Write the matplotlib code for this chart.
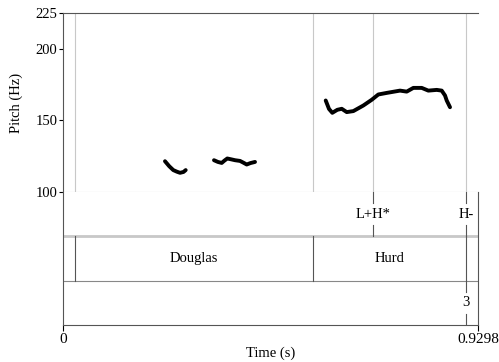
import matplotlib

matplotlib.use("Agg")
import matplotlib.pyplot as plt

plt.rcParams["font.family"] = ["Liberation Serif", "DejaVu Serif"]

# pitch contour (s, Hz), three voiced stretches
seg1_t = [0.2285, 0.2380, 0.2471, 0.2550, 0.2622, 0.2700, 0.2749]
seg1_f = [121.5, 118.0, 115.3, 114.2, 113.4, 114.0, 115.3]
seg2_t = [0.3383, 0.3470, 0.3556, 0.3620, 0.3681, 0.3770, 0.3854, 0.3966, 0.4040, 0.4116, 0.4200, 0.4302]
seg2_f = [122.2, 121.0, 120.3, 122.0, 123.4, 122.8, 122.2, 121.7, 120.5, 119.2, 120.2, 121.0]
seg3_t = [0.5886, 0.5960, 0.6034, 0.6146, 0.6245, 0.6357, 0.6505, 0.6620, 0.6729, 0.6917,
          0.7065, 0.7253, 0.7551, 0.7701, 0.7849, 0.8037, 0.8185, 0.8373, 0.8485, 0.8559,
          0.8597, 0.8671]
seg3_f = [163.9, 158.0, 155.3, 157.4, 158.1, 155.8, 156.5, 158.5, 160.4, 164.4,
          168.1, 169.2, 170.8, 170.1, 172.7, 172.7, 170.8, 171.3, 170.8, 167.4,
          163.9, 159.2]

t_end = 0.9298
y_ticks = [100, 150, 200, 225]

# tiers
tone_times = [0.6946, 0.9030]
tone_labels = ["L+H*", "H-"]
word_bounds = [0.0269, 0.5600, 0.9030]
word_labels = ["Douglas", "Hurd"]
break_times = [0.9030]
break_labels = ["3"]

W, H = 499, 362
fig = plt.figure(figsize=(W / 100, H / 100), dpi=100)
x0, x1 = 63 / W, 478 / W
ax = fig.add_axes([x0, 1 - 192 / H, x1 - x0, (192 - 13) / H])
tx = fig.add_axes([x0, 1 - 325 / H, x1 - x0, (325 - 192) / H])

# pitch panel
for t in [word_bounds[0], word_bounds[1], tone_times[0], tone_times[1]]:
    ax.axvline(t, color="#c8c8c8", lw=0.8, zorder=1)
for tt, ff in [(seg1_t, seg1_f), (seg2_t, seg2_f), (seg3_t, seg3_f)]:
    ax.plot(tt, ff, color="black", lw=2.8, solid_capstyle="round", zorder=3)
ax.set_xlim(0, t_end)
ax.set_ylim(100, 225)
ax.set_yticks(y_ticks)
ax.set_xticks([])
ax.tick_params(axis="y", direction="out", length=3, width=0.8, labelsize=10.5, pad=1)
ax.spines["bottom"].set_color("#c8c8c8")
ax.spines["right"].set_visible(False)
ax.spines["top"].set_color("#555555")
ax.spines["left"].set_color("#555555")
ax.set_ylabel("Pitch (Hz)", fontsize=10.5, labelpad=9)

# tier panel
tx.set_xlim(0, t_end)
tx.set_ylim(0, 3)
tx.set_yticks([])
tx.set_xticks([0, t_end])
tx.set_xticklabels(["0", "0.9298"])
tx.tick_params(axis="x", direction="out", length=4, width=0.8, labelsize=11, pad=2)
tx.spines["top"].set_visible(False)
for s in ["left", "right", "bottom"]:
    tx.spines[s].set_color("#555555")
tx.axhline(2, color="#c8c8c8", lw=2.0)
tx.axhline(1, color="#888888", lw=0.8)

tick_len = 0.25
for t, lab in zip(tone_times, tone_labels):
    tx.plot([t, t], [3, 3 - tick_len], color="#555555", lw=0.8)
    tx.plot([t, t], [2, 2 + tick_len], color="#555555", lw=0.8)
    tx.text(t, 2.5, lab, ha="center", va="center", fontsize=10.5)
for t in word_bounds:
    tx.plot([t, t], [1, 2], color="#555555", lw=0.8)
for a, b, lab in zip(word_bounds[:-1], word_bounds[1:], word_labels):
    tx.text((a + b) / 2, 1.5, lab, ha="center", va="center", fontsize=10.5)
for t, lab in zip(break_times, break_labels):
    tx.plot([t, t], [1, 1 - tick_len], color="#555555", lw=0.8)
    tx.plot([t, t], [0, tick_len], color="#555555", lw=0.8)
    tx.text(t, 0.5, lab, ha="center", va="center", fontsize=10.5)
tx.set_xlabel("Time (s)", fontsize=10.5, labelpad=0)

fig.savefig("out.png", dpi=100)
